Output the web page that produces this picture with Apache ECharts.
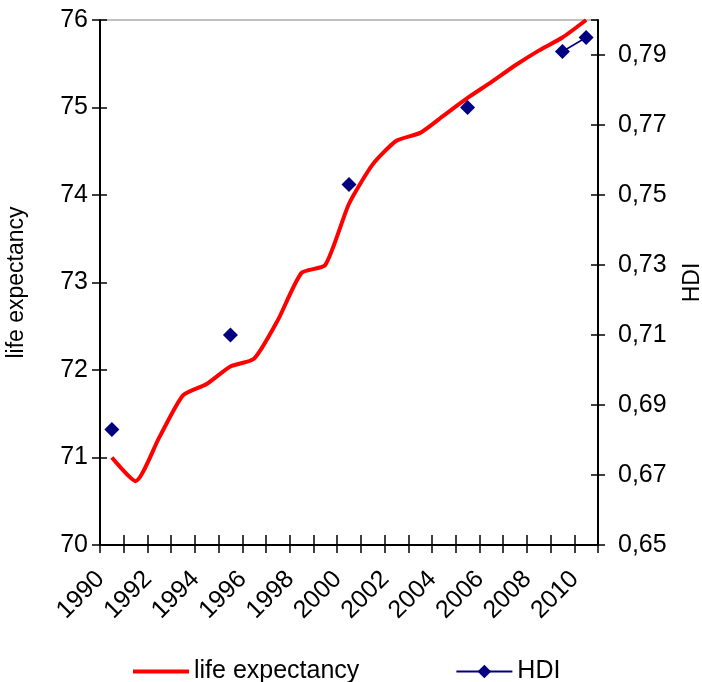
<!DOCTYPE html>
<html>
<head>
<meta charset="utf-8">
<script src="https://cdn.jsdelivr.net/npm/echarts@6/dist/echarts.min.js"></script>
<style>
html,body{margin:0;padding:0;background:#fff;}
#chart{width:702px;height:682px;}
</style>
</head>
<body>
<div id="chart"></div>
<script>
const years = ['1990','1991','1992','1993','1994','1995','1996','1997','1998','1999','2000','2001','2002','2003','2004','2005','2006','2007','2008','2009','2010'];
const lifeExpectancy = [71.0, 70.73, 71.23, 71.71, 71.84, 72.04, 72.13, 72.57, 73.11, 73.2, 73.9, 74.35, 74.62, 74.71, 74.91, 75.11, 75.29, 75.48, 75.65, 75.8, 76.0];
const hdi = [0.683, null, null, null, null, 0.710, null, null, null, null, 0.753, null, null, null, null, 0.775, null, null, null, 0.791, 0.795];
const leftTicks = [70, 71, 72, 73, 74, 75, 76];
const rightTicks = [0.65, 0.67, 0.69, 0.71, 0.73, 0.75, 0.77, 0.79];

const FONT = 'Liberation Sans, Arial, sans-serif';
const chart = echarts.init(document.getElementById('chart'), null, {renderer: 'canvas'});

const fmtComma = v => {
  const r = Math.round(v * 100) / 100;
  return rightTicks.some(t => Math.abs(t - r) < 1e-6) ? r.toFixed(2).replace('.', ',') : '';
};

chart.setOption({
  animation: false,
  backgroundColor: '#ffffff',
  textStyle: {fontFamily: FONT},
  grid: {left: 100, right: 104, top: 20, bottom: 137, containLabel: false, outerBoundsMode: 'none',
    show: true, borderColor: '#808080', borderWidth: 1, backgroundColor: 'transparent'},
  legend: {
    left: 128, top: 654,
    itemWidth: 56, itemHeight: 17, itemGap: 96,
    textStyle: {fontFamily: FONT, fontSize: 25, color: '#000'},
    data: [{name: 'life expectancy', icon: 'path://M0,0H56V4H0Z'}, {name: 'HDI'}]
  },
  xAxis: [{
    type: 'category', data: years, boundaryGap: true, position: 'bottom',
    axisLine: {lineStyle: {color: '#000', width: 2}},
    axisTick: {show: true, interval: 0, length: 8, lineStyle: {color: '#000', width: 1.5}},
    axisLabel: {interval: 1, rotate: 45, margin: 19, padding: [0, 16, 0, 0], fontSize: 25, color: '#000', fontFamily: FONT},
    splitLine: {show: false}
  }, {
    type: 'category', data: years, boundaryGap: true, position: 'bottom',
    axisLine: {show: false},
    axisTick: {show: true, inside: true, interval: 0, length: 10, lineStyle: {color: '#000', width: 1.5}},
    axisLabel: {show: false}, splitLine: {show: false}
  }],
  yAxis: [{
    type: 'value', min: 70, max: 76, interval: 1, position: 'left',
    name: 'life expectancy', nameLocation: 'middle', nameGap: 72, nameRotate: 90,
    nameTextStyle: {fontSize: 23, color: '#000', fontFamily: FONT},
    axisLine: {show: true, lineStyle: {color: '#000', width: 2}},
    axisTick: {show: true, length: 8, lineStyle: {color: '#000', width: 1.5}},
    axisLabel: {margin: 12, fontSize: 25, color: '#000', fontFamily: FONT},
    splitLine: {show: false}
  }, {
    type: 'value', min: 0.65, max: 0.80, interval: 0.02, position: 'right',
    name: 'HDI', nameLocation: 'middle', nameGap: 83, nameRotate: 90,
    nameTextStyle: {fontSize: 23, color: '#000', fontFamily: FONT},
    axisLine: {show: true, lineStyle: {color: '#000', width: 2}},
    axisTick: {show: true, length: 7, lineStyle: {color: '#000', width: 1.5}},
    axisLabel: {margin: 20, fontSize: 25, color: '#000', fontFamily: FONT, showMaxLabel: false, formatter: fmtComma},
    splitLine: {show: false}
  }, {
    type: 'value', min: 70, max: 76, interval: 1, position: 'left',
    axisLine: {show: false},
    axisTick: {show: true, inside: true, length: 7, lineStyle: {color: '#000', width: 1.5}},
    axisLabel: {show: false}, splitLine: {show: false}
  }, {
    type: 'value', min: 0.65, max: 0.80, interval: 0.02, position: 'right',
    axisLine: {show: false},
    axisTick: {show: true, inside: true, length: 7, lineStyle: {color: '#000', width: 1.5}},
    axisLabel: {show: false}, splitLine: {show: false}
  }],
  series: [{
    name: 'life expectancy', type: 'line', xAxisIndex: 0, yAxisIndex: 0,
    data: lifeExpectancy, showSymbol: false, symbol: 'none', smooth: 0.2,
    lineStyle: {color: '#ff0000', width: 4}, itemStyle: {color: '#ff0000'}, z: 3
  }, {
    name: 'HDI', type: 'line', xAxisIndex: 0, yAxisIndex: 1,
    data: hdi, connectNulls: false, symbol: 'diamond', symbolSize: 15, showSymbol: true,
    lineStyle: {color: '#000080', width: 1.5}, itemStyle: {color: '#000080'}, z: 4
  }]
});
</script>
</body>
</html>
